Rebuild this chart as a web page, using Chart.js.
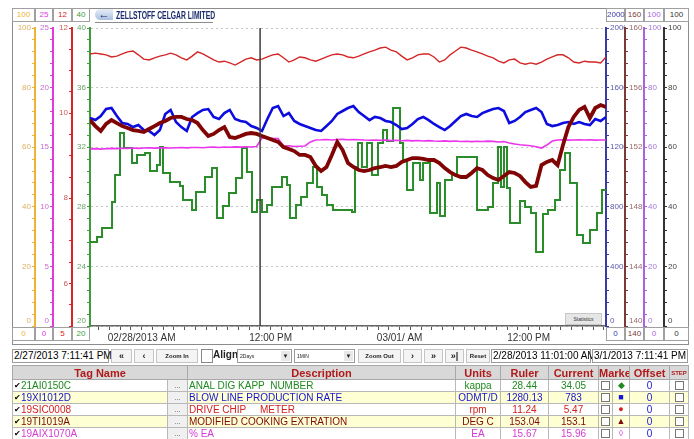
<!DOCTYPE html>
<html>
<head>
<meta charset="utf-8">
<script src="https://cdn.jsdelivr.net/npm/chart.js@4.4.1/dist/chart.umd.min.js"></script>
<style>
  body { margin: 0; background: #fff; font-family: "Liberation Sans", Arial, sans-serif; }
  #wrap { position: relative; width: 694px; height: 439px; overflow: hidden; background: #fff; }
  #trend { position: absolute; left: 0; top: 0; }
  .frame { position: absolute; left: 12px; top: 8px; width: 677px; height: 337px; border: 1px solid #8c8c8c; box-sizing: border-box; pointer-events: none; }
  .rbox { position: absolute; height: 14px; border: 1px solid #a0a0a0; box-sizing: border-box; background: #fff; font-size: 8px; line-height: 12px; text-align: center; }
  .title { position: absolute; left: 95px; top: 8px; width: 118px; height: 14px; border-bottom: 1px solid #8c8c8c; }
  .title .icon { position: absolute; left: 0; top: 1px; width: 18px; height: 11px; border-radius: 6px 0 0 6px; background: linear-gradient(#e8eef8, #aac0e0); color: #14206a; font-weight: bold; font-size: 11px; line-height: 10px; text-align: center; }
  .title .name { position: absolute; left: 21px; top: 1px; font-family: "Liberation Sans Narrow", "Liberation Sans", sans-serif; font-weight: bold; font-size: 11px; color: #1b2b6b; transform: scaleX(0.62); transform-origin: left; white-space: nowrap; }
  .stats { position: absolute; left: 565px; top: 313px; width: 37px; height: 12px; background: #e6e6e6; border: 1px solid #c8c8c8; box-sizing: border-box; font-size: 5px; line-height: 10px; text-align: center; color: #333; }
  .tb { position: absolute; top: 349px; height: 14px; box-sizing: border-box; border: 1px solid #c4c4c4; background: #f4f4f4; font-size: 6px; font-weight: bold; line-height: 12px; text-align: center; color: #222; white-space: nowrap; }
  .tb.date { background: #fff; border-color: #9a9a9a; font-size: 10px; font-weight: normal; text-align: left; padding-left: 1px; color: #000; }
  .tb.big { font-size: 9px; }
  .tb.drop { background: #fff; border-color: #9a9a9a; text-align: left; font-size: 5px; font-weight: normal; padding-left: 2px; }
  .tb.drop span { position: absolute; right: 1px; top: 1px; width: 9px; height: 10px; background: #e8e8e8; font-size: 6px; line-height: 10px; text-align: center; }
  #tags { position: absolute; left: 12px; top: 365px; width: 676px; border-collapse: collapse; table-layout: fixed; font-size: 10px; }
  #tags th { height: 13px; padding: 0; background: #d8d8d8; border: 1px solid #a8a8a8; color: #b01a1a; font-size: 11px; font-weight: bold; white-space: nowrap; overflow: hidden; line-height: 12px; }
  #tags th.small { font-size: 6px; }
  #tags td { height: 11px; padding: 0 1px; border: 1px solid #b8b8b8; white-space: pre; overflow: hidden; line-height: 11px; }
  #tags td.c { text-align: center; }
  #tags td.dots { color: #555; text-align: center; background: #f0f0f0; font-size: 8px; }
  #tags .ck { color: #000; font-size: 8px; vertical-align: top; line-height: 11px; }
  #tags .box { display: inline-block; width: 9px; height: 9px; box-sizing: border-box; border: 1px solid #777; background: #fff; vertical-align: top; margin-top: 1px; }
</style>
</head>
<body>
<div id="wrap">
  <canvas id="trend" width="694" height="346"></canvas>
  <div class="frame"></div>
  <div class="title"><div class="icon">&#8592;</div><div class="name">ZELLSTOFF CELGAR LIMITED</div></div>
  <div id="rangeBoxes"></div>
  <div class="stats">Statistics</div>

  <div class="tb date" style="left:12px;width:97px">2/27/2013 7:11:41 PM</div>
  <div class="tb big" style="left:111px;width:21px">&laquo;</div>
  <div class="tb big" style="left:134px;width:20px">&lsaquo;</div>
  <div class="tb" style="left:156px;width:42px">Zoom In</div>
  <div class="tb" style="left:201px;width:12px;background:#fff;border-color:#888"></div>
  <div class="tb" style="left:213px;width:24px;border:none;background:none;font-size:10px;text-align:left">Align</div>
  <div class="tb drop" style="left:237px;width:55px">2Days<span>&#9660;</span></div>
  <div class="tb drop" style="left:294px;width:61px">1MIN<span>&#9660;</span></div>
  <div class="tb" style="left:358px;width:43px">Zoom Out</div>
  <div class="tb big" style="left:403px;width:19px">&rsaquo;</div>
  <div class="tb big" style="left:424px;width:19px">&raquo;</div>
  <div class="tb big" style="left:445px;width:19px">&raquo;|</div>
  <div class="tb" style="left:466px;width:24px">Reset</div>
  <div class="tb date" style="left:491px;width:100px">2/28/2013 11:01:00 AM</div>
  <div class="tb date" style="left:592px;width:96px">3/1/2013 7:11:41 PM</div>

  <table id="tags">
    <colgroup>
      <col style="width:155px"><col style="width:20px"><col style="width:268px"><col style="width:45px"><col style="width:48px">
      <col style="width:50px"><col style="width:14px"><col style="width:17px"><col style="width:40px"><col style="width:19px">
    </colgroup>
    <thead>
      <tr><th colspan="2">Tag Name</th><th>Description</th><th>Units</th><th>Ruler</th><th>Current</th><th colspan="2">Marker</th><th>Offset</th><th class="small">STEP</th></tr>
    </thead>
    <tbody></tbody>
  </table>
</div>

<script>
// time axis: hours after 2/27/2013 7:11:41 PM, two days shown
const sampleHours = [0,0.5,1,1.5,2,2.5,3,3.5,4,4.5,5,5.5,6,6.5,7,7.5,8,8.5,9,9.5,10,10.5,11,11.5,12,12.5,13,13.5,14,14.5,15,15.5,16,16.5,17,17.5,18,18.5,19,19.5,20,20.5,21,21.5,22,22.5,23,23.5,24,24.5,25,25.5,26,26.5,27,27.5,28,28.5,29,29.5,30,30.5,31,31.5,32,32.5,33,33.5,34,34.5,35,35.5,36,36.5,37,37.5,38,38.5,39,39.5,40,40.5,41,41.5,42,42.5,43,43.5,44,44.5,45,45.5,46,46.5,47,47.5,48];
const timeLabelHours = [4.805, 16.805, 28.805, 40.805];
const timeLabels = ['02/28/2013 AM', '12:00 PM', '03/01/ AM', '12:00 PM'];
const firstHourMark = 0.805;
const rulerHour = 15.822;

// 19SIC0008 drive chip meter (rpm)
const chipRpm = [11.39,11.41,11.39,11.37,11.32,11.34,11.39,11.44,11.46,11.37,
  11.27,11.25,11.30,11.34,11.37,11.41,11.37,11.30,11.25,11.34,
  11.44,11.39,11.32,11.25,11.20,11.22,11.18,11.13,11.20,11.27,
  11.30,11.25,11.27,11.32,11.37,11.39,11.30,11.20,11.25,11.32,
  11.30,11.25,11.22,11.27,11.32,11.37,11.39,11.37,11.32,11.30,
  11.34,11.39,11.44,11.48,11.53,11.55,11.48,11.44,11.34,11.25,
  11.30,11.37,11.39,11.39,11.32,11.20,11.25,11.37,11.46,11.55,
  11.53,11.48,11.44,11.39,11.34,11.30,11.22,11.18,11.25,11.27,
  11.18,11.15,11.18,11.15,11.20,11.27,11.32,11.37,11.37,11.30,
  11.20,11.18,11.22,11.20,11.20,11.18,11.32];

// 19XI1012D blow line production rate (ODMT/D)
const blowRate = [1396,1382,1409,1456,1463,1409,1362,1356,1335,1349,
  1315,1309,1282,1315,1423,1450,1369,1335,1309,1403,
  1429,1450,1456,1403,1389,1429,1450,1389,1376,1369,
  1342,1329,1309,1389,1463,1476,1409,1429,1376,1356,
  1342,1329,1315,1309,1342,1376,1423,1443,1463,1476,
  1436,1409,1382,1403,1396,1376,1369,1349,1322,1329,
  1356,1389,1403,1382,1356,1335,1315,1342,1376,1409,
  1423,1409,1403,1429,1443,1456,1463,1443,1362,1376,
  1403,1436,1450,1463,1436,1356,1342,1349,1362,1369,
  1356,1369,1356,1349,1389,1376,1403];

// 19TI1019A modified cooking extraction (DEG C)
const cookTemp = [153.82,153.42,153.09,153.56,153.82,153.62,153.42,153.29,153.15,153.09,
  153.02,153.22,153.42,153.62,153.76,153.96,154.03,154.03,153.89,153.82,
  153.62,153.15,152.75,152.89,153.15,153.35,152.68,152.62,152.75,152.89,
  152.95,152.89,152.75,152.62,152.48,152.35,152.01,151.88,151.74,151.48,
  151.48,151.34,150.74,150.40,150.67,151.48,152.35,151.81,150.94,150.67,
  150.47,150.40,150.47,150.60,150.67,150.74,150.67,150.74,151.01,151.14,
  151.27,151.27,151.21,151.14,151.14,150.94,150.60,150.33,150.13,150.00,
  150.00,150.27,150.60,150.47,150.13,149.93,149.80,150.07,150.33,150.27,
  150.07,149.66,149.33,149.40,150.80,151.01,151.14,150.80,152.15,153.35,
  154.03,154.50,154.70,153.96,154.63,154.83,154.70];

// 19AIX1070A % EA
const eaPercent = [14.85,14.88,14.84,14.87,14.90,14.88,14.91,14.89,14.93,14.90,
  14.93,14.95,14.92,14.94,14.96,14.93,14.95,14.97,14.94,14.97,
  14.98,14.95,14.99,15.01,14.98,15.02,15.00,15.03,15.01,15.04,
  15.02,15.06,15.77,15.79,15.74,15.73,15.10,15.12,15.06,15.08,
  15.10,15.44,15.60,15.62,15.65,15.61,15.64,15.66,15.62,15.65,
  15.63,15.60,15.58,15.61,15.57,15.60,15.55,15.58,15.54,15.57,
  15.53,15.56,15.52,15.55,15.52,15.50,15.53,15.49,15.52,15.48,
  15.50,15.47,15.50,15.48,15.51,15.49,15.44,15.47,15.35,15.27,
  15.20,15.16,15.12,15.04,14.93,15.18,15.52,15.60,15.62,15.59,
  15.61,15.63,15.60,15.62,15.59,15.61,15.60];

// 21AI0150C kappa number, lab value held between samples (step line)
const kappaHours = [0,0.65,1.12,2.05,2.33,2.79,3.16,3.91,4.37,5.12,5.58,6.23,6.51,6.79,7.44,8.37,8.65,9.49,9.86,10.70,
  11.35,11.81,12.37,12.93,13.58,14.14,14.60,15.07,15.53,16.00,16.47,16.93,17.86,18.33,18.60,19.16,19.63,20.19,20.74,21.12,
  21.58,22.05,22.60,24.37,24.65,24.93,25.30,25.77,26.23,26.79,27.26,27.63,28.19,28.84,29.12,29.49,30.05,30.70,30.98,31.63,
  32.28,32.56,33.02,33.67,34.14,36.00,37.02,37.49,37.95,38.23,38.51,38.79,39.07,40.00,40.47,41.02,41.49,42.14,42.60,43.26,
  43.72,44.19,44.65,45.30,45.86,46.51,47.16,47.63,48.00];
const kappaValues = [25.64,25.97,26.58,28.32,30.13,32.95,31.95,30.94,31.48,31.61,30.40,30.80,32.01,30.27,29.66,29.40,28.46,27.78,28.99,30.00,
  30.60,27.25,28.05,28.93,29.93,31.95,30.33,27.65,28.46,27.65,28.12,29.33,30.00,29.46,27.25,28.12,28.66,29.60,30.67,29.33,
  28.79,28.12,27.78,27.65,30.67,32.28,30.67,32.28,30.13,32.28,33.15,32.42,34.63,32.28,31.14,29.13,30.94,29.80,30.94,27.58,
  29.60,27.38,29.80,30.13,31.34,27.78,27.99,29.60,32.01,29.33,32.01,29.26,26.91,28.39,27.99,27.58,24.97,27.52,27.78,28.46,
  30.47,31.61,29.60,26.11,25.57,26.44,27.58,29.13,29.13];

// tag table
const tagNames = ['21AI0150C', '19XI1012D', '19SIC0008', '19TI1019A', '19AIX1070A'];
const tagDescriptions = ['ANAL DIG KAPP  NUMBER', 'BLOW LINE PRODUCTION RATE', 'DRIVE CHIP     METER', 'MODIFIED COOKING EXTRATION', '% EA'];
const tagUnits = ['kappa', 'ODMT/D', 'rpm', 'DEG C', 'EA'];
const rulerValues = ['28.44', '1280.13', '11.24', '153.04', '15.67'];
const currentValues = ['34.05', '783', '5.47', '153.1', '15.96'];
const tagMarkers = ['\u25C6', '\u25A0', '\u25CF', '\u25B2', '\u25CA'];
const tagColors = ['#1f8a1f', '#1414d4', '#d42020', '#7a0a0a', '#d63ad6'];

// axis ranges, left axes listed inner to outer, then right axes inner to outer
const axisIds = ['yGreen', 'yRed', 'yMag', 'yOrange', 'yBlue', 'yBrown', 'yPurple', 'yBlack'];
const axisMin = [20, 5, 0, 0, 0, 140, 0, 0];
const axisMax = [40, 12, 25, 100, 2000, 160, 100, 100];
const axisStep = [0.8, 0.5, 1, 4, 80, 0.8, 4, 4];
const axisMajor = [4, 2, 5, 20, 400, 4, 20, 20];

const axisStyle = {
  yGreen:  { pos: 'left',  weight: 0, width: 18, line: '#3c9c3c', text: '#6aa46a' },
  yRed:    { pos: 'left',  weight: 1, width: 19, line: '#dc2424', text: '#cc5a5a' },
  yMag:    { pos: 'left',  weight: 2, width: 18, line: '#dc3cdc', text: '#cc6ccc' },
  yOrange: { pos: 'left',  weight: 3, width: 23, line: '#f0b232', text: '#dcb060' },
  yBlue:   { pos: 'right', weight: 0, width: 19, line: '#3a3aa8', text: '#5a5aaa' },
  yBrown:  { pos: 'right', weight: 1, width: 19, line: '#7a3a3a', text: '#9a6a6a' },
  yPurple: { pos: 'right', weight: 2, width: 20, line: '#a864e0', text: '#a878d8' },
  yBlack:  { pos: 'right', weight: 3, width: 24, line: '#333333', text: '#444444' }
};

const isMajor = (v, major) => Math.abs(v / major - Math.round(v / major)) < 1e-6;

function buildAxis(i) {
  const st = axisStyle[axisIds[i]];
  const min = axisMin[i], max = axisMax[i], major = axisMajor[i];
  const axis = {
    type: 'linear',
    position: st.pos,
    weight: st.weight,
    min: min,
    max: max,
    afterFit: s => { s.width = st.width; },
    ticks: {
      stepSize: axisStep[i],
      autoSkip: false,
      padding: 1,
      color: st.text,
      font: { family: 'Liberation Sans', size: 8 },
      callback: v => {
        if (!isMajor(v, major)) return '';
        return Math.abs(v - min) < 1e-6 ? [String(Math.round(v)), ''] : String(Math.round(v));
      }
    },
    grid: { drawOnChartArea: false, tickLength: 3, tickColor: st.line, lineWidth: 1 },
    border: { color: st.line, width: 2 }
  };
  if (axisIds[i] === 'yGreen') {
    // dotted guide lines across the plot at the green axis majors
    axis.grid.drawOnChartArea = true;
    axis.grid.color = c => (c.tick && isMajor(c.tick.value, major)) ? '#c4c4c4' : 'rgba(0,0,0,0)';
    axis.border.dash = [2, 3];
  }
  return axis;
}

// header / footer boxes with each axis range
const boxLeft = { yOrange: 12, yMag: 35, yRed: 53, yGreen: 72, yBlue: 606, yBrown: 625, yPurple: 644, yBlack: 664 };
const boxWidth = { yOrange: 23, yMag: 18, yRed: 19, yGreen: 18, yBlue: 19, yBrown: 19, yPurple: 20, yBlack: 25 };
let boxHtml = '';
axisIds.forEach((id, i) => {
  const col = axisStyle[id].line;
  boxHtml += `<div class="rbox" style="left:${boxLeft[id]}px;top:8px;width:${boxWidth[id]}px;color:${col}">${axisMax[i]}</div>`;
  boxHtml += `<div class="rbox" style="left:${boxLeft[id]}px;top:327px;width:${boxWidth[id]}px;color:${col}">${axisMin[i]}</div>`;
});
document.getElementById('rangeBoxes').innerHTML = boxHtml;

const tbody = document.querySelector('#tags tbody');
tagNames.forEach((name, i) => {
  const c = tagColors[i];
  tbody.innerHTML += `
    <tr style="background:${i % 2 ? '#ffffd4' : '#ffffff'};color:${c}">
      <td><span class="ck">&#10004;</span>${name}</td>
      <td class="dots">...</td>
      <td>${tagDescriptions[i]}</td>
      <td class="c">${tagUnits[i]}</td>
      <td class="c">${rulerValues[i]}</td>
      <td class="c">${currentValues[i]}</td>
      <td class="c"><span class="box"></span></td>
      <td class="c" style="font-size:9px">${tagMarkers[i]}</td>
      <td class="c" style="color:#1414d4">0</td>
      <td class="c"><span class="box"></span></td>
    </tr>`;
});

const rulerLine = {
  id: 'rulerLine',
  afterDatasetsDraw(chart) {
    const { ctx, chartArea, scales } = chart;
    const x = scales.x.getPixelForValue(rulerHour);
    ctx.save();
    ctx.strokeStyle = '#3c3c3c';
    ctx.lineWidth = 1.5;
    ctx.beginPath();
    ctx.moveTo(x, chartArea.top);
    ctx.lineTo(x, chartArea.bottom);
    ctx.stroke();
    ctx.restore();
  }
};

const scales = {
  x: {
    type: 'linear',
    position: 'bottom',
    min: 0,
    max: 48,
    afterFit: s => { s.height = 20; },
    afterBuildTicks: s => {
      s.ticks = [];
      for (let h = firstHourMark; h <= 48; h += 1) s.ticks.push({ value: h });
    },
    ticks: {
      autoSkip: false,
      maxRotation: 0,
      padding: 2,
      color: '#333',
      font: { family: 'Liberation Sans', size: 10 },
      callback: v => {
        const k = timeLabelHours.findIndex(h => Math.abs(h - v) < 0.01);
        return k >= 0 ? timeLabels[k] : '';
      }
    },
    grid: { drawOnChartArea: false, tickLength: 4, tickColor: '#555', lineWidth: 1 },
    border: { color: '#666', width: 1.5 }
  }
};
axisIds.forEach((id, i) => { scales[id] = buildAxis(i); });

const seriesPoints = values => sampleHours.map((h, i) => ({ x: h, y: values[i] }));

new Chart(document.getElementById('trend'), {
  type: 'line',
  data: {
    datasets: [
      { label: tagNames[2], data: seriesPoints(chipRpm), yAxisID: 'yRed', borderColor: '#d42626', borderWidth: 1.4, order: 1 },
      { label: tagNames[3], data: seriesPoints(cookTemp), yAxisID: 'yBrown', borderColor: '#800404', borderWidth: 3.8, order: 2 },
      { label: tagNames[1], data: seriesPoints(blowRate), yAxisID: 'yBlue', borderColor: '#0c0ce0', borderWidth: 2.6, order: 3 },
      { label: tagNames[4], data: seriesPoints(eaPercent), yAxisID: 'yMag', borderColor: '#ec34ec', borderWidth: 1.6, order: 4 },
      { label: tagNames[0], data: kappaHours.map((h, i) => ({ x: h, y: kappaValues[i] })), yAxisID: 'yGreen',
        borderColor: '#2a8c2a', borderWidth: 2, stepped: true, order: 5 }
    ]
  },
  options: {
    responsive: false,
    animation: false,
    parsing: false,
    elements: { point: { radius: 0 }, line: { tension: 0 } },
    layout: { padding: { left: 12, right: 6, top: 28, bottom: 0 } },
    plugins: { legend: { display: false }, tooltip: { enabled: false } },
    scales: scales
  },
  plugins: [rulerLine]
});
</script>
</body>
</html>
